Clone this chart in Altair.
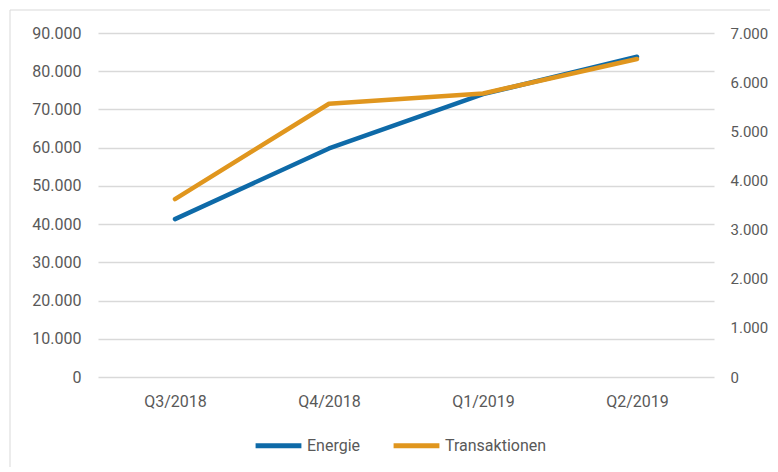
import altair as alt
import pandas as pd

quarters = ["Q3/2018", "Q4/2018", "Q1/2019", "Q2/2019"]
energie = [41300, 59800, 74000, 83800]
transaktionen = [3620, 5560, 5770, 6470]
series = ["Energie", "Transaktionen"]
colors = ["#0E6AA8", "#E0961E"]
left_ticks = [0, 10000, 20000, 30000, 40000, 50000, 60000, 70000, 80000, 90000]
right_ticks = [0, 1000, 2000, 3000, 4000, 5000, 6000, 7000]

df = pd.DataFrame({"Quartal": quarters, "Energie": energie, "Transaktionen": transaktionen})

FONT = "Roboto"
TXT = "#595959"
label_expr = "replace(format(datum.value, ','), ',', '.')"

x = alt.X(
    "Quartal:N",
    sort=quarters,
    scale=alt.Scale(type="point", padding=0.5),
    axis=alt.Axis(title=None, domain=False, ticks=False, labelPadding=16, labelAngle=0, grid=False),
)
color = alt.Color(
    "Serie:N",
    scale=alt.Scale(domain=series, range=colors),
    legend=alt.Legend(
        title=None, orient="none", legendX=155, legendY=387, direction="horizontal",
        symbolType="stroke", symbolSize=2100, symbolStrokeWidth=5,
        labelFont=FONT, labelFontSize=16, labelColor=TXT,
        columnPadding=22, labelOffset=3,
    ),
)

border = alt.Chart(alt.Data(values=[{}])).mark_rect(
    fillOpacity=0, stroke="#d9d9d9", strokeWidth=1
).encode(
    x=alt.value(-88), x2=alt.value(700), y=alt.value(-23), y2=alt.value(480)
)

base = alt.Chart(df)
e = base.transform_calculate(Serie="'Energie'").mark_line(
    strokeWidth=4.5, strokeCap="round", strokeJoin="round"
).encode(
    x=x,
    y=alt.Y(
        "Energie:Q",
        scale=alt.Scale(domain=[0, 90000], nice=False),
        axis=alt.Axis(
            title=None, values=left_ticks, labelExpr=label_expr, orient="left",
            grid=True, domain=False, ticks=False, labelPadding=17,
        ),
    ),
    color=color,
)
t = base.transform_calculate(Serie="'Transaktionen'").mark_line(
    strokeWidth=4.5, strokeCap="round", strokeJoin="round"
).encode(
    x=x,
    y=alt.Y(
        "Transaktionen:Q",
        scale=alt.Scale(domain=[0, 7000], nice=False),
        axis=alt.Axis(
            title=None, values=right_ticks, labelExpr=label_expr, orient="right",
            grid=False, domain=False, ticks=False, labelPadding=16, labelFontSize=15,
        ),
    ),
    color=color,
)

chart = (
    alt.layer(border, e, t)
    .resolve_scale(y="independent")
    .properties(
        width=616,
        height=344,
        autosize=alt.AutoSizeParams(type="none"),
        padding={"left": 90, "top": 25, "right": 56, "bottom": 90},
    )
    .configure_view(stroke=None)
    .configure_axis(
        labelFont=FONT, labelFontSize=16, labelColor=TXT,
        gridColor="#d9d9d9", gridWidth=1.3,
    )
)

chart.save("out.html", embed_options={"renderer": "svg", "actions": False})
